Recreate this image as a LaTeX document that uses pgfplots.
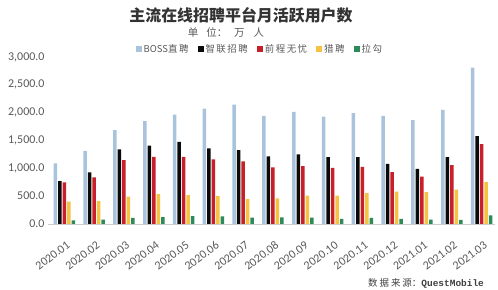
\documentclass[border=0pt]{standalone}
\usepackage{fontspec}
\setmainfont{Carlito}
\newfontfamily\cjk{Noto Sans CJK SC}
\newfontfamily\mono{Liberation Mono}
\usepackage{pgfplots}
\usepackage{pgfplotstable}
\pgfplotsset{compat=1.18}
\definecolor{cboss}{HTML}{A9C3DC}
\definecolor{czl}{HTML}{0A0A0A}
\definecolor{cqc}{HTML}{C8202A}
\definecolor{clp}{HTML}{F5C242}
\definecolor{clg}{HTML}{2E8A5A}
\definecolor{txt}{HTML}{595959}
\pgfplotstableread{
x boss zl qc lp lg
0 1088 771 747 400 66
1 1315 926 837 412 78
2 1685 1339 1147 490 108
3 1847 1410 1207 538 125
4 1966 1476 1207 520 143
5 2074 1357 1159 502 137
6 2145 1327 1124 448 114
7 1942 1213 1016 460 120
8 2014 1249 1040 508 114
9 1930 1201 1010 508 90
10 1990 1201 1028 556 108
11 1942 1082 932 580 90
12 1865 992 849 574 78
13 2050 1201 1058 616 72
14 2809 1578 1434 753 155
}\data
\newcommand{\lsp}{\hspace{1.5bp}}
\begin{document}
\begin{tikzpicture}
\useasboundingbox (0,0) rectangle (498bp,290bp);
\begin{axis}[
  at={(48bp,66bp)}, anchor=south west,
  scale only axis, width=447bp, height=167bp,
  ybar=1bp, bar width=3.5bp,
  xmin=-0.55, xmax=14.45, ymin=0, ymax=3000,
  ytick={0,500,...,3000},
  xtick=data,
  xticklabels={2020.01,2020.02,2020.03,2020.04,2020.05,2020.06,2020.07,2020.08,2020.09,2020.10,2020.11,2020.12,2021.01,2021.02,2021.03},
  axis x line*=bottom, axis y line*=left,
  x axis line style={draw=black!20, line width=0.8pt},
  y axis line style={draw=none},
  major tick length=0pt,
  scaled y ticks=false,
  yticklabel style={font=\fontsize{12}{12}\selectfont, text=txt,
    /pgf/number format/.cd, fixed, fixed zerofill, precision=1, 1000 sep={,}, assume math mode=true},
  xticklabel style={font=\fontsize{12}{13}\selectfont, text=txt, rotate=37, anchor=north east, inner sep=1bp, xshift=-7.5bp, yshift=-13bp},
  legend style={at={(0.474,1.048)}, anchor=center, draw=none, fill=none,
    legend columns=-1, font=\cjk\fontsize{9.5}{10}\selectfont, text=txt,
    /tikz/every even column/.append style={column sep=7bp}},
  legend image code/.code={\fill[#1] (0bp,-3bp) rectangle (6bp,3bp);},
]
\addplot[draw=none, fill=cboss] table[x=x,y=boss]{\data};
\addplot[draw=none, fill=czl] table[x=x,y=zl]{\data};
\addplot[draw=none, fill=cqc] table[x=x,y=qc]{\data};
\addplot[draw=none, fill=clp] table[x=x,y=lp]{\data};
\addplot[draw=none, fill=clg] table[x=x,y=lg]{\data};
\legend{BOSS直\lsp 聘,智\lsp 联\lsp 招\lsp 聘,前\lsp 程\lsp 无\lsp 忧,猎\lsp 聘,拉\lsp 勾}
\end{axis}
\node[font=\cjk\bfseries\fontsize{16}{18}\selectfont, text=black!80] at (241bp,275bp) {主流在线招聘平台月活跃用户数};
\node[font=\cjk\fontsize{10.5}{11}\selectfont, text=txt] at (226bp,257bp) {单\hspace{8bp}位：\hspace{7bp}万\hspace{9bp}人};
\node[font=\cjk\fontsize{9.5}{10}\selectfont, text=black!75] at (426bp,7bp) {数\hspace{2bp}据\hspace{2bp}来\hspace{2bp}源：{\mono\bfseries\fontsize{9.5}{10}\selectfont QuestMobile}};
\end{tikzpicture}
\end{document}
